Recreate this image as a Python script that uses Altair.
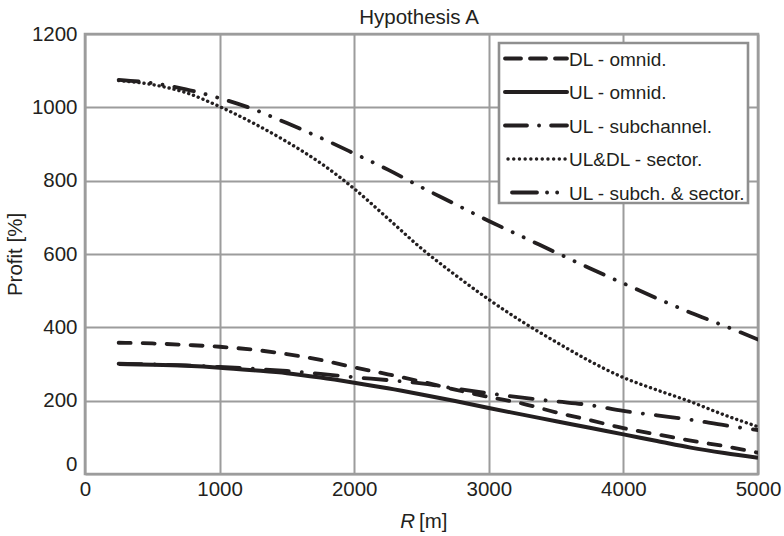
import altair as alt
import pandas as pd

# ---- data ----
R = [250, 500, 750, 1000, 1250, 1500, 1750, 2000, 2250, 2500,
     2750, 3000, 3250, 3500, 3750, 4000, 4250, 4500, 4750, 5000]

dl_omnid = [358, 356, 352, 347, 339, 327, 311, 291, 272, 252,
            230, 210, 192, 168, 147, 125, 108, 91, 76, 58]
ul_omnid = [300, 298, 295, 290, 283, 275, 263, 249, 234, 217,
            199, 180, 162, 144, 126, 108, 90, 72, 57, 44]
ul_subchannel = [301, 299, 296, 292, 287, 281, 273, 264, 256, 247,
                 233, 220, 208, 198, 188, 172, 160, 148, 133, 120]
uldl_sector = [1073, 1062, 1040, 1002, 957, 906, 848, 778, 697, 615,
               543, 476, 415, 360, 308, 263, 229, 197, 161, 129]
ul_subch_sector = [1075, 1066, 1049, 1025, 995, 957, 917, 874, 830, 782,
                   736, 690, 647, 604, 561, 520, 479, 440, 404, 367]

series_names = ["DL - omnid.", "UL - omnid.", "UL - subchannel.",
                "UL&DL - sector.", "UL - subch. & sector."]
series_values = [dl_omnid, ul_omnid, ul_subchannel, uldl_sector, ul_subch_sector]

x_ticks = [0, 1000, 2000, 3000, 4000, 5000]
y_ticks = [0, 200, 400, 600, 800, 1000, 1200]

INK = "#231f20"
GRID = "#9c9c9c"
FONT = "Liberation Sans"
AX_FS = 20.5

rows = []
for name, vals in zip(series_names, series_values):
    for r, v in zip(R, vals):
        rows.append({"series": name, "R": r, "profit": v})
df = pd.DataFrame(rows)

# line styles per series
styles = {
    "DL - omnid.": dict(strokeDash=[12, 12], strokeCap="round", strokeWidth=3.8),
    "UL - omnid.": dict(strokeCap="butt", strokeWidth=4.0),
    "UL - subchannel.": dict(strokeDash=[23, 13, 0.1, 13], strokeCap="round", strokeWidth=3.8),
    "UL&DL - sector.": dict(strokeDash=[0.1, 5], strokeCap="round", strokeWidth=3.4),
    "UL - subch. & sector.": dict(strokeDash=[20, 12, 0.1, 12, 0.1, 12], strokeCap="round", strokeWidth=3.8),
}
legend_dash = {
    "DL - omnid.": dict(strokeDash=[16, 9], strokeCap="round", strokeWidth=3.8),
    "UL - omnid.": dict(strokeCap="round", strokeWidth=4.0),
    "UL - subchannel.": dict(strokeDash=[22, 12, 0.1, 12], strokeCap="round", strokeWidth=3.8),
    "UL&DL - sector.": dict(strokeDash=[0.1, 5.6], strokeCap="round", strokeWidth=3.4),
    "UL - subch. & sector.": dict(strokeDash=[25, 10, 0.1, 10, 0.1, 20], strokeCap="round", strokeWidth=3.8),
}
legend_start = {"DL - omnid.": 420, "UL - omnid.": 420, "UL - subchannel.": 420,
                "UL&DL - sector.": 423, "UL - subch. & sector.": 427}

base = alt.Chart(df).encode(
    x=alt.X("R:Q", scale=alt.Scale(domain=[0, 5000], nice=False),
            axis=alt.Axis(values=x_ticks, title=None, format="d",
                          grid=True, ticks=False, tickSize=0, domain=False,
                          labelPadding=5, labelFlush=False)),
    y=alt.Y("profit:Q", scale=alt.Scale(domain=[0, 1200], nice=False),
            axis=alt.Axis(values=y_ticks, title="Profit [%]", format="d",
                          grid=True, ticks=False, tickSize=0, domain=False,
                          labelPadding=8, titlePadding=6,
                          labelBaseline={"condition": {"test": "datum.value == 0", "value": "bottom"},
                                         "value": "middle"})),
)

layers = []
for name in series_names:
    layers.append(
        base.transform_filter(alt.datum.series == name)
        .mark_line(color=INK, clip=True, interpolate="monotone", **styles[name])
    )

one = pd.DataFrame({"k": [0]})

# chart title
layers.append(
    alt.Chart(pd.DataFrame({"t": ["Hypothesis A"]})).mark_text(
        font=FONT, fontSize=AX_FS, color=INK, align="center", baseline="alphabetic"
    ).encode(x=alt.value(334), y=alt.value(-10), text="t:N")
)
# x axis title with italic R
layers.append(
    alt.Chart(pd.DataFrame({"t": ["R"]})).mark_text(
        font=FONT, fontSize=AX_FS, fontStyle="italic", color=INK, align="right", baseline="alphabetic"
    ).encode(x=alt.value(330), y=alt.value(494), text="t:N")
)
layers.append(
    alt.Chart(pd.DataFrame({"t": ["[m]"]})).mark_text(
        font=FONT, fontSize=AX_FS, color=INK, align="left", baseline="alphabetic"
    ).encode(x=alt.value(334), y=alt.value(494), text="t:N")
)

# legend box
layers.append(
    alt.Chart(one).mark_rect(fill="white", stroke="#8f8f8f", strokeWidth=2.6).encode(
        x=alt.value(414), x2=alt.value(663), y=alt.value(9), y2=alt.value(169)
    )
)
row_y = [24.5, 58, 91.5, 125, 158.5]
for name, yy in zip(series_names, row_y):
    layers.append(
        alt.Chart(one).mark_rule(color=INK, **legend_dash[name]).encode(
            x=alt.value(legend_start[name]), x2=alt.value(482), y=alt.value(yy)
        )
    )
    layers.append(
        alt.Chart(pd.DataFrame({"t": [name]})).mark_text(
            font=FONT, fontSize=19, color=INK, align="left", baseline="middle"
        ).encode(x=alt.value(484), y=alt.value(yy + 1), text="t:N")
    )

chart = alt.layer(*layers).properties(
    width=673, height=440,
    padding={"left": 85, "top": 34, "right": 26, "bottom": 62},
    autosize=alt.AutoSizeParams(type="none"),
    background="white",
).configure_view(
    stroke=GRID, strokeWidth=2.6
).configure_axis(
    gridColor=GRID, gridWidth=2, gridOpacity=1,
    labelFont=FONT, labelFontSize=AX_FS, labelColor=INK,
    titleFont=FONT, titleFontSize=AX_FS, titleFontWeight="normal", titleColor=INK,
)

chart.save("out.html", embed_options={"renderer": "svg", "actions": False})
